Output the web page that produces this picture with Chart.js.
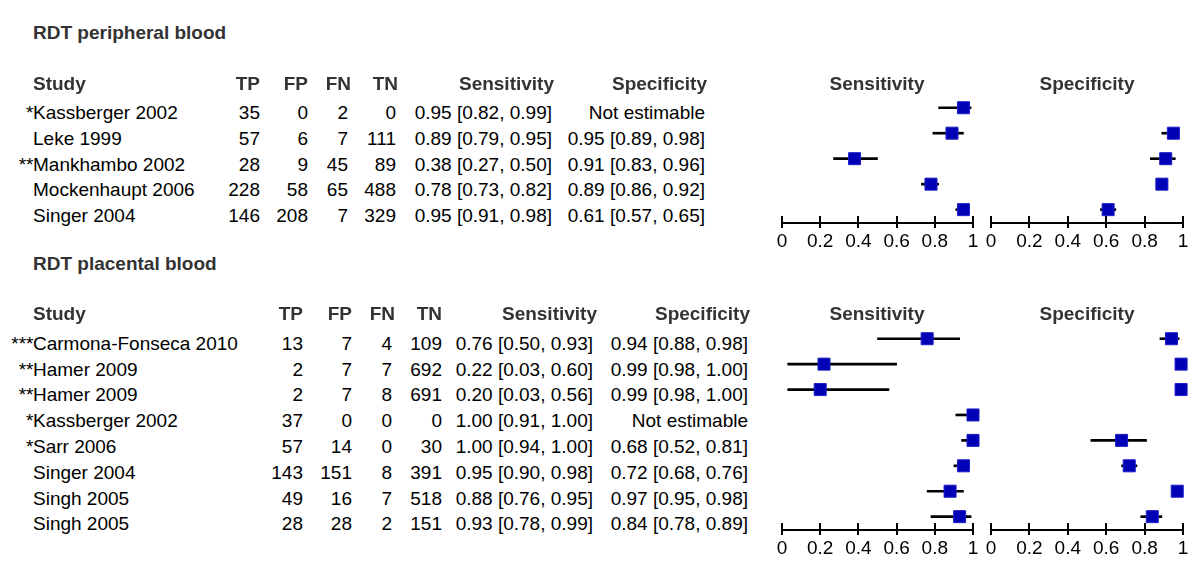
<!DOCTYPE html>
<html>
<head>
<meta charset="utf-8">
<script src="https://cdn.jsdelivr.net/npm/chart.js@4"></script>
<style>
    body { margin: 0; background: #fff; width: 1200px; height: 573px; overflow: hidden; position: relative;
           font-family: "Liberation Sans", Arial, sans-serif; font-size: 19px; }
    .t { position: absolute; line-height: 19px; height: 19px; white-space: nowrap; color: #000; }
    .b { font-weight: bold; color: #333; }
    canvas { position: absolute; }
</style>
</head>
<body>
<canvas id="periSens" width="207" height="166" style="left:774px; top:90px;"></canvas>
<canvas id="periSpec" width="208" height="166" style="left:983px; top:90px;"></canvas>
<canvas id="placSens" width="207" height="242" style="left:774px; top:321px;"></canvas>
<canvas id="placSpec" width="208" height="242" style="left:983px; top:321px;"></canvas>
<script>
// Axis ticks
const tickValues = [0, 0.2, 0.4, 0.6, 0.8, 1];
const tickLabels = ['0', '0.2', '0.4', '0.6', '0.8', '1'];
const headers = ['TP', 'FP', 'FN', 'TN', 'Sensitivity', 'Specificity'];

// RDT peripheral blood
const periStudies = ['Kassberger 2002', 'Leke 1999', 'Mankhambo 2002', 'Mockenhaupt 2006', 'Singer 2004'];
const periMarks = ['*', '', '**', '', ''];
const periTP = [35, 57, 28, 228, 146];
const periFP = [0, 6, 9, 58, 208];
const periFN = [2, 7, 45, 65, 7];
const periTN = [0, 111, 89, 488, 329];
const periSens = [0.95, 0.89, 0.38, 0.78, 0.95];
const periSensLo = [0.82, 0.79, 0.27, 0.73, 0.91];
const periSensHi = [0.99, 0.95, 0.50, 0.82, 0.98];
const periSpec = [null, 0.95, 0.91, 0.89, 0.61];
const periSpecLo = [null, 0.89, 0.83, 0.86, 0.57];
const periSpecHi = [null, 0.98, 0.96, 0.92, 0.65];

// RDT placental blood
const placStudies = ['Carmona-Fonseca 2010', 'Hamer 2009', 'Hamer 2009', 'Kassberger 2002', 'Sarr 2006', 'Singer 2004', 'Singh 2005', 'Singh 2005'];
const placMarks = ['***', '**', '**', '*', '*', '', '', ''];
const placTP = [13, 2, 2, 37, 57, 143, 49, 28];
const placFP = [7, 7, 7, 0, 14, 151, 16, 28];
const placFN = [4, 7, 8, 0, 0, 8, 7, 2];
const placTN = [109, 692, 691, 0, 30, 391, 518, 151];
const placSens = [0.76, 0.22, 0.20, 1.00, 1.00, 0.95, 0.88, 0.93];
const placSensLo = [0.50, 0.03, 0.03, 0.91, 0.94, 0.90, 0.76, 0.78];
const placSensHi = [0.93, 0.60, 0.56, 1.00, 1.00, 0.98, 0.95, 0.99];
const placSpec = [0.94, 0.99, 0.99, null, 0.68, 0.72, 0.97, 0.84];
const placSpecLo = [0.88, 0.98, 0.98, null, 0.52, 0.68, 0.95, 0.78];
const placSpecHi = [0.98, 1.00, 1.00, null, 0.81, 0.76, 0.98, 0.89];

// Place one piece of text, y is the vertical centre
function put(text, x, y, align, bold) {
    const d = document.createElement('div');
    d.className = 't' + (bold ? ' b' : '');
    d.textContent = text;
    d.style.top = (y - 9.5) + 'px';
    if (align === 'right') {
        d.style.left = (x - 400) + 'px';
        d.style.width = '400px';
        d.style.textAlign = 'right';
    } else if (align === 'center') {
        d.style.left = (x - 150) + 'px';
        d.style.width = '300px';
        d.style.textAlign = 'center';
    } else {
        d.style.left = x + 'px';
    }
    document.body.appendChild(d);
}

function ci(v, lo, hi) {
    if (v === null) return 'Not estimable';
    return v.toFixed(2) + ' [' + lo.toFixed(2) + ', ' + hi.toFixed(2) + ']';
}

// Draw the table part of a section
function drawTable(s) {
    put(s.title, 33, s.titleY, 'left', true);
    put('Study', 33, s.headY, 'left', true);
    headers.forEach((h, j) => put(h, s.headRight[j], s.headY, 'right', true));
    put('Sensitivity', 877, s.headY, 'center', true);
    put('Specificity', 1087, s.headY, 'center', true);

    s.studies.forEach((name, i) => {
        const y = s.rowY + i * s.rowStep;
        if (s.marks[i]) put(s.marks[i], 33.5, y, 'right');
        put(name, 33, y, 'left');
        const cells = [s.tp[i], s.fp[i], s.fn[i], s.tn[i],
            ci(s.sens[i], s.sensLo[i], s.sensHi[i]),
            ci(s.spec[i], s.specLo[i], s.specHi[i])];
        cells.forEach((c, j) => put(String(c), s.colRight[j], y, 'right'));
    });
}

// Axis line crossing the tick marks
const axisLine = {
    id: 'axisLine',
    afterDraw(chart) {
        const x = chart.scales.x;
        const ctx = chart.ctx;
        const y = x.top + 7;
        ctx.save();
        ctx.strokeStyle = '#000';
        ctx.lineWidth = 2;
        ctx.beginPath();
        ctx.moveTo(x.getPixelForValue(0) - 1, y);
        ctx.lineTo(x.getPixelForValue(1) + 1, y);
        ctx.stroke();
        ctx.restore();
    }
};

// Forest plot: squares for estimates, floating bars for the intervals
function drawForest(id, est, lo, hi) {
    const n = est.length;
    const points = [];
    const whiskers = [];
    est.forEach((v, i) => {
        if (v === null) return;
        points.push({ x: v, y: i });
        whiskers.push({ x: [lo[i], hi[i]], y: i });
    });

    new Chart(document.getElementById(id), {
        type: 'scatter',
        data: {
            datasets: [
                {
                    type: 'scatter',
                    data: points,
                    order: 0,
                    clip: false,
                    pointStyle: 'rect',
                    pointRadius: 8.5,
                    pointHoverRadius: 8.5,
                    backgroundColor: '#0000b4',
                    borderColor: '#1e1ec8',
                    borderWidth: 1
                },
                {
                    type: 'bar',
                    indexAxis: 'y',
                    data: whiskers,
                    order: 1,
                    barThickness: 2,
                    backgroundColor: '#000',
                    borderWidth: 0
                }
            ]
        },
        options: {
            responsive: false,
            animation: false,
            events: [],
            layout: { autoPadding: false, padding: { left: 8, right: 8, top: 5, bottom: 0 } },
            plugins: { legend: { display: false }, tooltip: { enabled: false } },
            scales: {
                x: {
                    type: 'linear',
                    min: 0,
                    max: 1,
                    afterBuildTicks: s => { s.ticks = tickValues.map(v => ({ value: v })); },
                    afterFit: s => { s.height = 40; },
                    ticks: {
                        callback: (v, i) => tickLabels[i],
                        color: '#000',
                        padding: 2,
                        maxRotation: 0,
                        autoSkip: false,
                        font: { family: 'Liberation Sans', size: 19 }
                    },
                    grid: { drawOnChartArea: false, tickLength: 12, color: '#000', lineWidth: 2 },
                    border: { display: false }
                },
                y: { type: 'linear', display: false, offset: false, reverse: true, min: -0.5, max: n - 0.75 }
            }
        },
        plugins: [axisLine]
    });
}

drawTable({
    title: 'RDT peripheral blood', titleY: 32, headY: 83, rowY: 112.3, rowStep: 25.85,
    headRight: [260, 308, 351, 398, 554, 707],
    colRight: [260, 308, 348, 396, 552, 705],
    studies: periStudies, marks: periMarks,
    tp: periTP, fp: periFP, fn: periFN, tn: periTN,
    sens: periSens, sensLo: periSensLo, sensHi: periSensHi,
    spec: periSpec, specLo: periSpecLo, specHi: periSpecHi
});

drawTable({
    title: 'RDT placental blood', titleY: 263, headY: 313.5, rowY: 343.3, rowStep: 25.8,
    headRight: [303, 352, 395, 442, 597, 750],
    colRight: [303, 352, 392, 442, 593, 748],
    studies: placStudies, marks: placMarks,
    tp: placTP, fp: placFP, fn: placFN, tn: placTN,
    sens: placSens, sensLo: placSensLo, sensHi: placSensHi,
    spec: placSpec, specLo: placSpecLo, specHi: placSpecHi
});

drawForest('periSens', periSens, periSensLo, periSensHi);
drawForest('periSpec', periSpec, periSpecLo, periSpecHi);
drawForest('placSens', placSens, placSensLo, placSensHi);
drawForest('placSpec', placSpec, placSpecLo, placSpecHi);
</script>
</body>
</html>
